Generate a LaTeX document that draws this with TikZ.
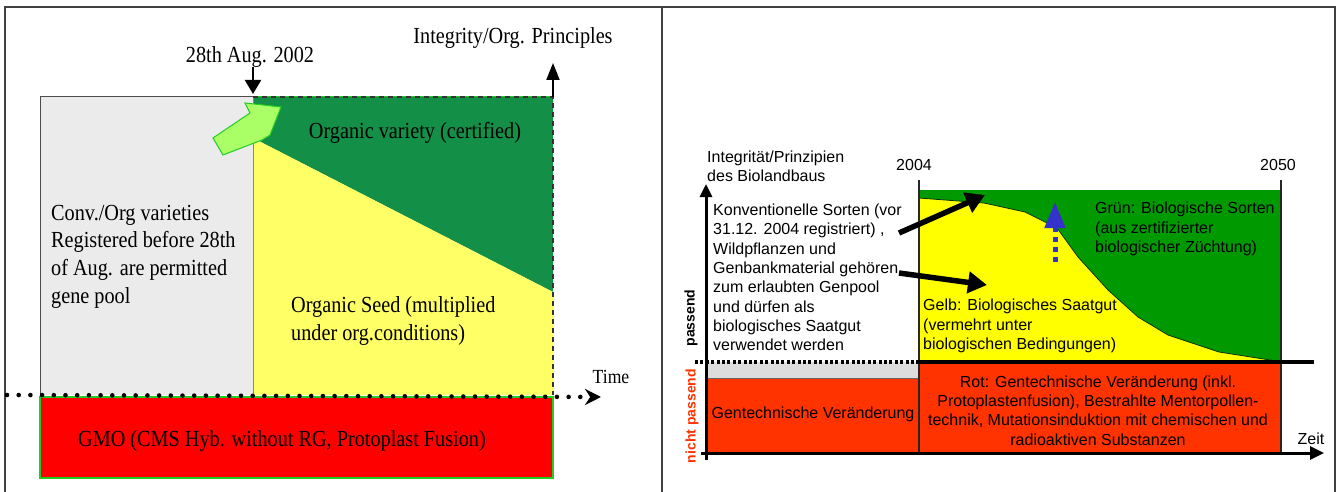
\documentclass[tikz,border=0pt]{standalone}
\usepackage{fontspec}
\setmainfont{Liberation Serif}[FakeStretch=0.88]
\newfontfamily\arialf{Liberation Sans}
\usetikzlibrary{arrows.meta}
\definecolor{lgray}{HTML}{EBEBEB}
\definecolor{dgreen}{HTML}{148F47}
\definecolor{lyellow}{HTML}{FFFF66}
\definecolor{lred}{HTML}{FF0000}
\definecolor{arrgreen}{HTML}{AAFF66}
\definecolor{bgreen}{HTML}{22CC22}
\definecolor{rgreen}{HTML}{009900}
\definecolor{ryellow}{HTML}{FFFF00}
\definecolor{rred}{HTML}{FF3300}
\definecolor{rgray}{HTML}{DDDDDD}
\definecolor{rblue}{HTML}{3333CC}
\tikzset{
  ltext/.style={font=\fontsize{23}{27.7}\selectfont, inner sep=0pt, align=left},
  rtext/.style={font=\arialf\fontsize{16}{19.3}\selectfont, inner sep=0pt, align=left},
  rlabel/.style={font=\arialf\bfseries\fontsize{14}{16}\selectfont, inner sep=0pt, rotate=90},
  blkarrow/.style={line width=5.5pt, -{Triangle[length=19pt,width=21pt]}},
  framel/.style={line width=1.5pt, black!75},
}
\begin{document}
\begin{tikzpicture}[x=1pt,y=-1pt]
\useasboundingbox (0,0) rectangle (1338,492);
% frame
\draw[framel] (5,492) -- (5,7) -- (1335,7) -- (1335,492);
\draw[framel] (662,7) -- (662,492);

% ===== LEFT PANEL =====
\fill[lgray] (40,97) rectangle (253,395);
\draw[black!70, line width=1pt] (40,395) -- (40,97) -- (253,97);
\fill[dgreen] (253,97) -- (553,97) -- (553,292) -- (253,138) -- cycle;
\fill[lyellow] (253,138) -- (553,292) -- (553,395) -- (253,395) -- cycle;
\draw[bgreen, line width=1pt] (253,97) -- (253,395);
\draw[bgreen, line width=1pt] (253,97) -- (553,97);
\draw[black!80, line width=1.3pt, dash pattern=on 5pt off 4pt] (253,97) -- (553,97) -- (553,395);
\fill[lred] (40,397) rectangle (553,478);
\draw[bgreen, line width=1.2pt] (40,397) rectangle (553,478);

% green fat arrow
\filldraw[fill=arrgreen, draw=bgreen, line width=1pt]
  (213,138) -- (250,113) -- (245,103) -- (281,107) -- (270,135) -- (262,140) -- (223,155) -- cycle;

% dotted time axis
\coordinate (tstart) at (7,395);
\coordinate (tend) at (601,397);
\draw[line width=4.6pt, line cap=round, dash pattern=on 0pt off 11.7pt, -{Stealth[length=16pt,width=16pt]}] (tstart) -- (tend);
\node[ltext, font=\fontsize{20}{24}\selectfont] (time) at (611,377) {Time};

% date arrow
\node[ltext] (date) at (250,57) {28th Aug. 2002};
\coordinate (dateTip) at (253,94);
\draw[line width=2pt, -{Triangle[length=14pt,width=16pt]}] (253,67) -- (dateTip);

% integrity arrow
\node[ltext] (integ) at (513,38) {Integrity/Org. Principles};
\coordinate (intBase) at (553,97);
\coordinate (intTip) at (553,63);
\draw[line width=2pt, -{Triangle[length=17pt,width=13pt]}] (intBase) -- (intTip);

\node[ltext] (orgvar) at (415,133) {Organic variety (certified)};
\node[ltext, anchor=west] (conv) at (51,256.5) {Conv./Org varieties\\Registered before 28th\\of Aug. are permitted\\gene pool};
\node[ltext, anchor=west] (orgseed) at (291,321) {Organic Seed (multiplied\\under org.conditions)};
\node[ltext] (gmo) at (282,441) {GMO (CMS Hyb. without RG, Protoplast Fusion)};

% ===== RIGHT PANEL =====
\fill[rgreen] (919,190) rectangle (1281,362);
\fill[ryellow] (919,198) -- (984,203) -- (1025,212) -- (1057,228) -- (1078,257) -- (1108,290) -- (1138,317) -- (1168,335) -- (1219,352) -- (1270,360) -- (1281,362) -- (919,362) -- cycle;
\draw[black!80!green, line width=0.8pt] (919,198) -- (984,203) -- (1025,212) -- (1057,228) -- (1078,257) -- (1108,290) -- (1138,317) -- (1168,335) -- (1219,352) -- (1270,360) -- (1281,362);
\fill[rgray] (706,362) rectangle (919,378);
\fill[rred] (706,378) rectangle (919,453);
\draw[black!60, line width=1pt] (706,378) -- (919,378);
\fill[rred] (919,362) rectangle (1281,453);

% ticks
\draw[black!85, line width=1.2pt] (919,180) -- (919,453);
\draw[black!85, line width=1.2pt] (1281,180) -- (1281,453);

% separator line
\draw[line width=3.5pt] (919,362) -- (1314,362);
\draw[line width=3.5pt, dash pattern=on 3pt off 2.4pt] (695,362) -- (919,362);

% axes
\coordinate (yaxBot) at (706,460);
\coordinate (yaxTop) at (706,184);
\draw[line width=3pt, -{Triangle[length=13pt,width=12pt]}] (yaxBot) -- (yaxTop);
\coordinate (xaxL) at (701,453);
\coordinate (xaxR) at (1324,453);
\draw[line width=3pt, -{Triangle[length=14pt,width=13pt]}] (xaxL) -- (xaxR);

% texts
\node[rtext, anchor=west] (ylab) at (707,166) {Integrität/Prinzipien\\des Biolandbaus};
\node[rtext] (y2004) at (914,165) {2004};
\node[rtext] (y2050) at (1278,165) {2050};
\node[rtext, anchor=west] (konv) at (713,277.5) {Konventionelle Sorten (vor\\31.12. 2004 registriert) ,\\Wildpflanzen und\\Genbankmaterial gehören\\zum erlaubten Genpool\\und dürfen als\\biologisches Saatgut\\verwendet werden};
\node[rtext, anchor=west] (gruen) at (1095,229) {Grün: Biologische Sorten\\(aus zertifizierter\\biologischer Züchtung)};
\node[rtext, anchor=west] (gelb) at (923,326) {Gelb: Biologisches Saatgut\\(vermehrt unter\\biologischen Bedingungen)};
\node[rtext] (gent) at (813,414) {Gentechnische Veränderung};
\node[rtext, align=center] (rot) at (1098,410.5) {Rot: Gentechnische Veränderung (inkl.\\Protoplastenfusion), Bestrahlte Mentorpollen-\\technik, Mutationsinduktion mit chemischen und\\radioaktiven Substanzen};
\node[rtext] (zeit) at (1311,439) {Zeit};
\node[rlabel] (pass) at (691,318) {passend};
\node[rlabel, text=rred] (npass) at (692,416) {nicht passend};

% pointer arrows
\coordinate (a1s) at (899,233);
\coordinate (a1e) at (985,195);
\coordinate (a2s) at (899,273);
\coordinate (a2e) at (987,285);
\draw[blkarrow] (a1s) -- (a1e);
\draw[blkarrow] (a2s) -- (a2e);

% blue arrow
\coordinate (bs) at (1055,262);
\coordinate (be) at (1055,202);
\draw[rblue, line width=5pt, dash pattern=on 5pt off 5pt, -{Triangle[length=26pt,width=20pt]}] (bs) -- (be);
\end{tikzpicture}
\end{document}
